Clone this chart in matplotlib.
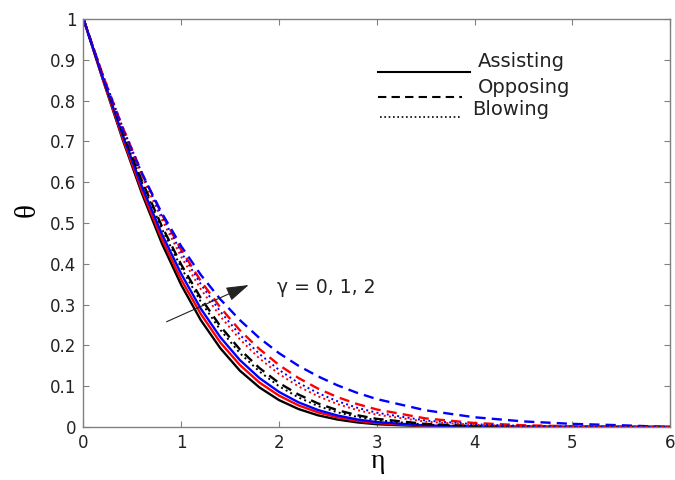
import numpy as np
import matplotlib
matplotlib.use('Agg')
import matplotlib.pyplot as plt

# similarity variable
eta = [0, 0.2, 0.4, 0.6, 0.8, 1.0, 1.2, 1.4, 1.6, 1.8, 2.0, 2.2, 2.4, 2.6, 2.8, 3.0, 3.5, 4.0, 4.5, 5.0, 5.5, 6.0]

# assisting flow, gamma = 0, 1, 2
assist_g0 = [1.0, 0.850, 0.705, 0.571, 0.451, 0.348, 0.262, 0.193, 0.138, 0.097, 0.066, 0.044, 0.0286, 0.0182, 0.0113, 0.0068, 0.0017, 0.0004, 0.0001, 0.0, 0.0, 0.0]
assist_g1 = [1.0, 0.851, 0.709, 0.578, 0.462, 0.361, 0.277, 0.207, 0.152, 0.109, 0.077, 0.053, 0.0358, 0.0236, 0.0153, 0.0097, 0.0028, 0.0007, 0.0001, 0.0, 0.0, 0.0]
assist_g2 = [1.0, 0.855, 0.716, 0.588, 0.474, 0.375, 0.290, 0.220, 0.164, 0.120, 0.086, 0.0604, 0.0416, 0.0281, 0.0186, 0.0121, 0.0038, 0.0010, 0.0003, 0.0001, 0.0, 0.0]

# opposing flow
oppose_g0 = [1.0, 0.857, 0.724, 0.602, 0.493, 0.398, 0.316, 0.247, 0.190, 0.1445, 0.108, 0.0795, 0.0576, 0.0411, 0.0289, 0.020, 0.0075, 0.0025, 0.0008, 0.0002, 0.0001, 0.0]
oppose_g1 = [1.0, 0.861, 0.735, 0.622, 0.522, 0.434, 0.358, 0.293, 0.237, 0.191, 0.152, 0.120, 0.094, 0.0731, 0.0563, 0.043, 0.0211, 0.0098, 0.0043, 0.0018, 0.0007, 0.0]
oppose_g2 = [1.0, 0.855, 0.729, 0.619, 0.525, 0.443, 0.373, 0.313, 0.262, 0.218, 0.181, 0.150, 0.124, 0.102, 0.0837, 0.0685, 0.0409, 0.0239, 0.0137, 0.0077, 0.0043, 0.0]

# blowing
blow_g0 = [1.0, 0.857, 0.722, 0.598, 0.487, 0.390, 0.307, 0.238, 0.181, 0.136, 0.100, 0.0723, 0.0514, 0.036, 0.0248, 0.0168, 0.0059, 0.0018, 0.0005, 0.0001, 0.0, 0.0]
blow_g1 = [1.0, 0.860, 0.730, 0.613, 0.509, 0.417, 0.338, 0.271, 0.215, 0.168, 0.130, 0.0994, 0.0752, 0.0561, 0.0415, 0.0303, 0.0131, 0.0053, 0.0020, 0.0007, 0.0002, 0.0]
blow_g2 = [1.0, 0.862, 0.735, 0.621, 0.518, 0.428, 0.350, 0.283, 0.226, 0.179, 0.140, 0.108, 0.0831, 0.063, 0.0472, 0.035, 0.0159, 0.0067, 0.0027, 0.0010, 0.0003, 0.0]

colors = ['black', 'red', 'blue']
xticks = [0, 1, 2, 3, 4, 5, 6]
yticks = [0, 0.1, 0.2, 0.3, 0.4, 0.5, 0.6, 0.7, 0.8, 0.9, 1]
ylabels = ['0', '0.1', '0.2', '0.3', '0.4', '0.5', '0.6', '0.7', '0.8', '0.9', '1']

fig = plt.figure(figsize=(6.75, 4.8), dpi=100)
ax = fig.add_axes([0.1237, 0.1104, 0.8689, 0.85])

lw = 1.7
for y, c in zip([assist_g0, assist_g1, assist_g2], colors):
    ax.plot(eta, y, color=c, linewidth=lw)
for y, c in zip([oppose_g0, oppose_g1, oppose_g2], colors):
    ax.plot(eta, y, color=c, linewidth=lw, dashes=(4.3, 2.6))
for y, c in zip([blow_g0, blow_g1, blow_g2], colors):
    ax.plot(eta, y, color=c, linewidth=1.4, dashes=(1, 1.7))

ax.set_xlim(0, 6)
ax.set_ylim(0, 1)
ax.set_xticks(xticks)
ax.set_yticks(yticks)
ax.set_yticklabels(ylabels)
ax.tick_params(direction='in', top=True, right=True, length=4, color='#808080',
               labelsize=12, labelcolor='#222222', pad=5)
for s in ax.spines.values():
    s.set_color('#808080')
    s.set_linewidth(1.0)

# mathregular keeps the serif font but gives a tight text box
ax.set_xlabel(r'$\mathregular{η}$', fontsize=20, family='Liberation Serif', va='baseline')
ax.set_ylabel(r'$\mathregular{θ}$', fontsize=21, family='Liberation Serif', va='center')
ax.xaxis.set_label_coords(0.502, -0.100)
ax.yaxis.set_label_coords(-0.093, 0.527)

# hand-drawn style legend
ax.plot([0.502, 0.659], [0.870, 0.870], color='black', linewidth=1.5, transform=ax.transAxes)
ax.plot([0.502, 0.645], [0.809, 0.809], color='black', linewidth=1.5, dashes=(4, 2.5), transform=ax.transAxes)
ax.plot([0.506, 0.642], [0.760, 0.760], color='black', linewidth=1.2, dashes=(1, 1.6), transform=ax.transAxes)
ax.text(0.673, 0.895, 'Assisting', fontsize=14, va='center', ha='left', color='#222222', transform=ax.transAxes)
ax.text(0.673, 0.833, 'Opposing', fontsize=14, va='center', ha='left', color='#222222', transform=ax.transAxes)
ax.text(0.662, 0.777, 'Blowing', fontsize=14, va='center', ha='left', color='#222222', transform=ax.transAxes)

ax.annotate('', xy=(1.69, 0.348), xytext=(0.85, 0.258),
            arrowprops=dict(arrowstyle='-|>,head_length=0.7,head_width=0.22', color='#222222',
                            lw=0.8, mutation_scale=20, shrinkA=0, shrinkB=0))
ax.text(1.976, 0.343, 'γ = 0, 1, 2', fontsize=13.5, va='center', ha='left', color='#222222')

fig.savefig('out.png', dpi=100)
